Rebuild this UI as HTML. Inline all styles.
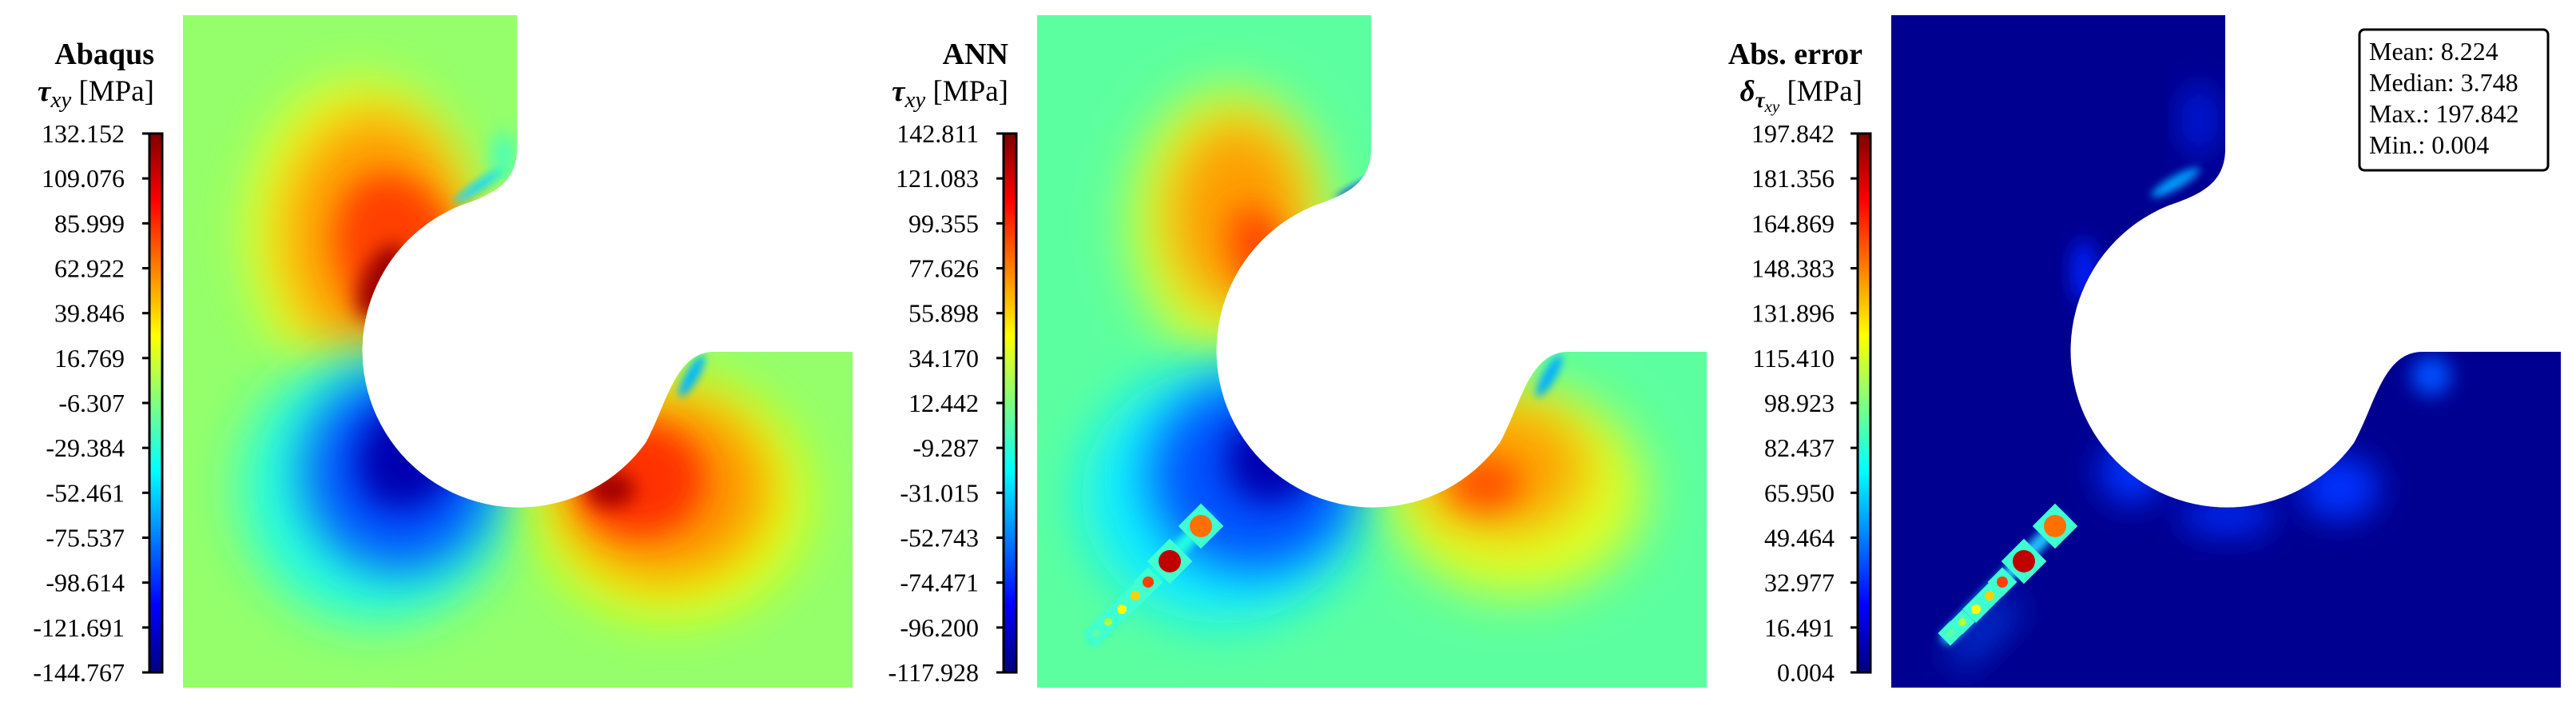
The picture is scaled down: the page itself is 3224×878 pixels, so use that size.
<!DOCTYPE html>
<html><head><meta charset="utf-8">
<style>
html,body{margin:0;padding:0;background:#fff;}
svg{display:block;}
text{font-family:"Liberation Serif","DejaVu Serif",serif;fill:#000;}
</style></head>
<body>
<svg id="fig" width="3224" height="878" viewBox="0 0 3224 878" xmlns="http://www.w3.org/2000/svg">
<defs>
  <linearGradient id="jet" x1="0" y1="1" x2="0" y2="0">
    <stop offset="0" stop-color="#00007f"/>
    <stop offset="0.125" stop-color="#0000ff"/>
    <stop offset="0.375" stop-color="#00ffff"/>
    <stop offset="0.625" stop-color="#ffff00"/>
    <stop offset="0.875" stop-color="#ff0000"/>
    <stop offset="1" stop-color="#7f0000"/>
  </linearGradient>
  <filter id="b40" x="-60%" y="-60%" width="220%" height="220%"><feGaussianBlur stdDeviation="32"/></filter>
  <filter id="b25" x="-60%" y="-60%" width="220%" height="220%"><feGaussianBlur stdDeviation="20"/></filter>
  <filter id="b12" x="-60%" y="-60%" width="220%" height="220%"><feGaussianBlur stdDeviation="12"/></filter>
  <filter id="b5" x="-60%" y="-60%" width="220%" height="220%"><feGaussianBlur stdDeviation="5"/></filter>
  <clipPath id="shape">
    <path d="M229,19 L647,19 L647,186 C647,228 618,243 576,257 A196,196 0 1 0 808,554 C835,505 845,440 894,440 L1067,440 L1067,860 L229,860 Z"/>
  </clipPath>
</defs>
</svg>
<script>
// colorbar tick labels (data)
const abaqusTicks = ["132.152","109.076","85.999","62.922","39.846","16.769","-6.307","-29.384","-52.461","-75.537","-98.614","-121.691","-144.767"];
const annTicks = ["142.811","121.083","99.355","77.626","55.898","34.170","12.442","-9.287","-31.015","-52.743","-74.471","-96.200","-117.928"];
const errTicks = ["197.842","181.356","164.869","148.383","131.896","115.410","98.923","82.437","65.950","49.464","32.977","16.491","0.004"];
const statLabels = ["Mean:","Median:","Max.:","Min.:"];
const statValues = ["8.224","3.748","197.842","0.004"];

const NS="http://www.w3.org/2000/svg";
const svg=document.getElementById('fig');
function mk(tag,attrs,parent){const e=document.createElementNS(NS,tag);for(const k in attrs)e.setAttribute(k,attrs[k]);(parent||svg).appendChild(e);return e;}

// blobs per panel: [cx,cy,rx,ry,color,filter,rot]
const fields=[
 {bg:"#94ff6b",blobs:[
  [450,290,140,190,"#e8ff20","b40",0],
  [470,295,115,155,"#ff9c00","b40",0],
  [500,320,75,105,"#ff4000","b25",-20],
  [478,352,24,50,"#9a0000","b12",25],
  [600,232,38,6,"#10d8ff","b5",-35],
  [630,195,14,30,"#40ffc0","b12",0],
  [470,610,170,170,"#20ffe0","b40",0],
  [500,590,120,125,"#0050ff","b40",0],
  [510,570,60,70,"#0000b0","b25",30],
  [840,625,170,150,"#e8ff10","b40",0],
  [830,610,130,115,"#ff9000","b40",0],
  [800,600,80,70,"#ff3000","b25",0],
  [765,612,30,22,"#a00000","b12",0],
  [866,470,30,8,"#00b8ff","b5",-60]]},
 {bg:"#5cffa0",blobs:[
  [470,280,125,170,"#d8ff30","b40",0],
  [480,270,85,120,"#ff9c00","b40",0],
  [510,320,35,65,"#ff4a00","b25",-20],
  [640,232,40,6,"#0030ff","b5",-25],
  [680,190,16,10,"#00e0ff","b5",0],
  [460,620,175,160,"#10f0ff","b40",0],
  [500,595,130,120,"#0050ff","b40",0],
  [520,575,55,55,"#0000b0","b25",30],
  [830,615,160,130,"#e0ff20","b40",0],
  [810,585,105,80,"#ffa000","b40",0],
  [790,605,45,32,"#ff5000","b25",0],
  [870,470,30,8,"#00b0ff","b5",-60]]},
 {bg:"#000090",blobs:[
  [585,228,35,8,"#00a0ff","b5",-30],
  [615,150,18,45,"#0020f0","b25",0],
  [470,340,15,40,"#0020ff","b12",0],
  [530,590,40,40,"#0030ff","b25",0],
  [650,645,60,25,"#0028f0","b25",0],
  [790,610,50,40,"#0030ff","b25",0],
  [905,470,25,25,"#0050ff","b12",0],
  [345,790,60,20,"#0030d0","b25",-45]]}
];
const beads=[[434,658,14,"#ff7000"],[395,702,14,"#c00000"],[368,728,7,"#ff4000"],[352,745,6,"#ffd000"],[335,762,6,"#ffff00"],[318,778,5,"#b0ff40"],[303,792,5,"#60ffa0"]];
const offsets=[0,1069,2138];
const titles=["Abaqus","ANN","Abs. error"];
const tickSets=[abaqusTicks,annTicks,errTicks];

fields.forEach((f,i)=>{
  const g=mk('g',{transform:`translate(${offsets[i]},0)`});
  
  
  const fg=mk('g',{'clip-path':'url(#shape)'},g);
  
  
  mk('rect',{x:229,y:19,width:838,height:841,fill:f.bg},fg);
  f.blobs.forEach(b=>{
    const e=mk('ellipse',{cx:b[0],cy:b[1],rx:b[2],ry:b[3],fill:b[4],filter:`url(#${b[5]})`,transform:`rotate(${b[6]} ${b[0]} ${b[1]})`},fg);
    
    
  });
  if(i>0){
    const halo=mk('line',{x1:300,y1:797,x2:440,y2:652,stroke:i==1?"#20ffe0":"#20c0ff","stroke-width":18,"stroke-linecap":"round",filter:"url(#b5)"},fg);
    
    
    beads.forEach(b=>{
      mk('rect',{x:b[0]-b[2]-6,y:b[1]-b[2]-6,width:2*b[2]+12,height:2*b[2]+12,fill:"#40ffd0",transform:`rotate(45 ${b[0]} ${b[1]})`},fg);
      const c=mk('circle',{cx:b[0],cy:b[1],r:b[2],fill:b[3]},fg);
      
      
    });
  }
  const top=167,bot=841,bx=187,bw=16;
  const cb=mk('rect',{x:bx,y:top,width:bw,height:bot-top,fill:'url(#jet)',stroke:'#000','stroke-width':3},g);
  
  
  const ticks=tickSets[i];
  const n=ticks.length;
  const yScale=k=>top+(bot-top)*k/(n-1);
  ticks.forEach((t,k)=>{
    const y=yScale(k);
    mk('line',{x1:bx-9,y1:y,x2:bx,y2:y,stroke:'#000','stroke-width':3},g);
    const tx=mk('text',{x:i==2?158:156,y:y+11,'text-anchor':'end','font-size':32},g);
    tx.textContent=t;
    
    
  });
  const tt=mk('text',{x:193,y:80,'text-anchor':'end','font-size':38,'font-weight':'bold'},g);
  tt.textContent=titles[i];
  
  
  const st=mk('text',{x:193,y:126,'text-anchor':'end','font-size':37},g);
  
  
  if(i<2){
    st.innerHTML='<tspan font-weight="bold" font-style="italic">τ</tspan><tspan font-style="italic" font-size="29" dy="8">xy</tspan><tspan dy="-8"> [MPa]</tspan>';
  } else {
    st.innerHTML='<tspan font-weight="bold" font-style="italic">δ</tspan><tspan font-weight="bold" font-style="italic" font-size="27" dy="8">τ</tspan><tspan font-style="italic" font-size="21" dy="6">xy</tspan><tspan dy="-14"> [MPa]</tspan>';
  }
});

const box=mk('rect',{x:2953,y:37,width:236,height:176,rx:6,fill:'#fff',stroke:'#000','stroke-width':3});


statLabels.forEach((l,k)=>{
  const t=mk('text',{x:2965,y:75+k*39,'font-size':32});
  t.textContent=l+" "+statValues[k];
  
  
});
</script>
</body></html>
